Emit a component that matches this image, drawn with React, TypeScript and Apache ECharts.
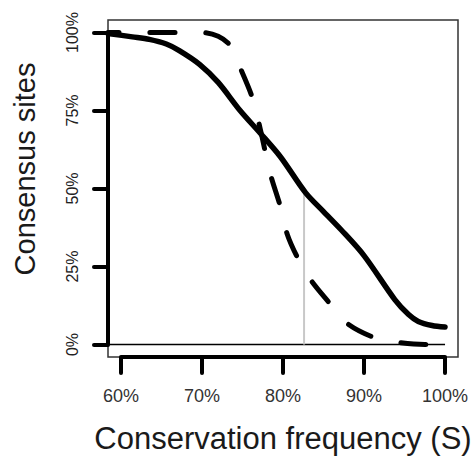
import React, { useEffect, useRef } from "react";
import * as echarts from "echarts";

// Conservation frequency (%) and consensus sites (%)
const solidX = [58.4, 61.4, 63.5, 65.6, 67.2, 69.7, 72.0, 74.7, 77.2, 79.7, 82.8, 85.0, 87.2, 90.0, 93.8, 95.5, 96.7, 98.4, 100];
const solidY = [99.7, 98.6, 97.8, 96.3, 94.2, 89.8, 84.0, 75.0, 67.7, 60.1, 48.6, 42.6, 36.7, 28.5, 14.4, 9.6, 7.4, 6.1, 5.6];

const dashX = [58.4, 70.0, 72.0, 73.5, 74.7, 76.2, 77.2, 78.4, 79.7, 80.5, 81.8, 83.4, 85.7, 87.8, 90.9, 93.8, 97.5, 100];
const dashY = [100, 100, 98.8, 95.8, 88.8, 79.2, 69.0, 55.0, 44.0, 35.5, 27.8, 20.8, 13.4, 7.0, 2.6, 0.8, 0, 0];

const zeroLineX = [58.4, 100];
const zeroLineY = [0, 0];

const markerX = [82.6, 82.6];
const markerY = [0, 49];

const xTicks = [60, 70, 80, 90, 100];
const yTicks = [0, 25, 50, 75, 100];

const X_MIN = 58.4;
const X_MAX = 101.6;
const Y_MIN = -4;
const Y_MAX = 104;

const zip = (xs: number[], ys: number[]) => xs.map((x, i) => [x, ys[i]]);

export default function App() {
  const ref = useRef<HTMLDivElement>(null);

  useEffect(() => {
    if (!ref.current) return;
    const chart = echarts.init(ref.current, undefined, { renderer: "svg" });
    const font = "Liberation Sans, Arial, Helvetica, sans-serif";
    chart.setOption({
      animation: false,
      backgroundColor: "#ffffff",
      grid: {
        left: 108,
        right: 17,
        top: 20,
        bottom: 100,
        outerBoundsMode: "none",
        containLabel: false,
        show: true,
        borderColor: "#333",
        borderWidth: 1.5,
        backgroundColor: "transparent",
      },
      xAxis: {
        type: "value",
        min: X_MIN,
        max: X_MAX,
        name: "Conservation frequency (S)",
        nameLocation: "middle",
        nameGap: 66,
        nameTextStyle: { fontFamily: font, fontSize: 31, color: "#1a1a1a" },
        axisLine: { show: false, onZero: false },
        splitLine: { show: false },
        axisTick: {
          show: true,
          customValues: xTicks,
          length: 16,
          lineStyle: { color: "#000", width: 4, cap: "round" },
        },
        axisLabel: {
          customValues: xTicks,
          formatter: (v: number) => `${v}%`,
          margin: 30,
          fontFamily: font,
          fontSize: 18,
          color: "#333",
        },
      },
      yAxis: {
        type: "value",
        min: Y_MIN,
        max: Y_MAX,
        axisLine: { show: false, onZero: false },
        splitLine: { show: false },
        axisTick: {
          show: true,
          customValues: yTicks,
          length: 14,
          lineStyle: { color: "#000", width: 4, cap: "round" },
        },
        axisLabel: {
          customValues: yTicks,
          formatter: (v: number) => `${v}%`,
          rotate: 90,
          margin: 28,
          fontFamily: font,
          fontSize: 16,
          color: "#222",
        },
      },
      graphic: [
        {
          type: "text",
          x: 25,
          y: 169,
          rotation: Math.PI / 2,
          style: {
            text: "Consensus sites",
            fontFamily: font,
            fontSize: 29,
            fill: "#1a1a1a",
            align: "center",
            verticalAlign: "middle",
          },
        },
      ],
      series: [
        {
          type: "line",
          data: zip(zeroLineX, zeroLineY),
          symbol: "none",
          lineStyle: { color: "#000", width: 1.5 },
          z: 1,
        },
        {
          type: "line",
          data: zip(markerX, markerY),
          symbol: "none",
          lineStyle: { color: "#c8c8c8", width: 2 },
          z: 1,
        },
        {
          type: "line",
          data: zip(dashX, dashY),
          symbol: "none",
          smooth: 0.3,
          lineStyle: {
            color: "#000",
            width: 5,
            type: [25, 31],
            dashOffset: 14,
            cap: "round",
            join: "round",
          },
          z: 3,
        },
        {
          type: "line",
          data: zip(solidX, solidY),
          symbol: "none",
          smooth: 0.3,
          lineStyle: { color: "#000", width: 5.5, cap: "round", join: "round" },
          z: 4,
        },
        {
          type: "line",
          data: [[xTicks[0], Y_MIN], [xTicks[xTicks.length - 1], Y_MIN]],
          symbol: "none",
          clip: false,
          lineStyle: { color: "#000", width: 4 },
          z: 5,
        },
        {
          type: "line",
          data: [[X_MIN, yTicks[0]], [X_MIN, yTicks[yTicks.length - 1]]],
          symbol: "none",
          clip: false,
          lineStyle: { color: "#000", width: 4 },
          z: 5,
        },
      ],
    });
    return () => chart.dispose();
  }, []);

  return (
    <div
      ref={ref}
      style={{ position: "absolute", left: 0, top: 0, width: 475, height: 457 }}
    />
  );
}
